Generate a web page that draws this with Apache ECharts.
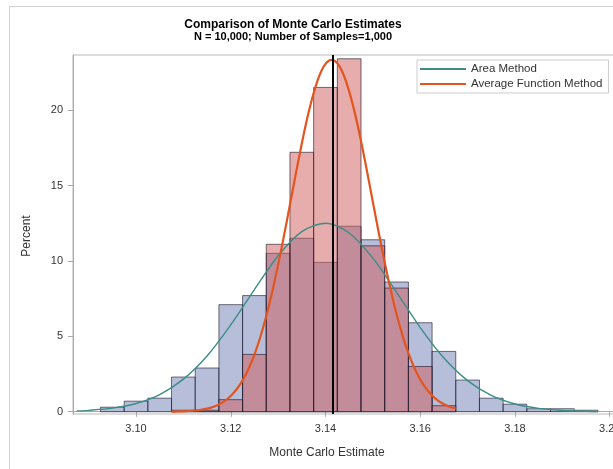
<!DOCTYPE html>
<html>
<head>
<meta charset="utf-8">
<script src="https://cdn.jsdelivr.net/npm/echarts@6/dist/echarts.min.js"></script>
<style>
  html, body { margin: 0; padding: 0; background: #fff; }
  #chart { width: 613px; height: 469px; }
</style>
</head>
<body>
<div id="chart"></div>
<script>
// histogram bins (percent of 1,000 samples), bin width 0.005
const binWidth = 0.005
const areaBinCenters = [3.095, 3.100, 3.105, 3.110, 3.115, 3.120, 3.125, 3.130, 3.135, 3.140, 3.145,
  3.150, 3.155, 3.160, 3.165, 3.170, 3.175, 3.180, 3.185, 3.190, 3.195]
const areaPercent = [0.3, 0.7, 0.9, 2.3, 2.9, 7.1, 7.7, 10.5, 11.5, 9.9, 12.3,
  11.4, 8.6, 5.9, 4.0, 2.1, 0.9, 0.5, 0.2, 0.2, 0.1]
const avgBinCenters = [3.110, 3.115, 3.120, 3.125, 3.130, 3.135, 3.140, 3.145, 3.150, 3.155, 3.160, 3.165]
const avgPercent = [0.1, 0.1, 0.8, 3.8, 11.1, 17.2, 21.5, 23.4, 11.0, 8.2, 3.0, 0.4]

// fitted normal curves
const areaCurveX = [3.0875, 3.090, 3.095, 3.100, 3.105, 3.110, 3.115, 3.120, 3.125, 3.130, 3.135, 3.140,
  3.145, 3.150, 3.155, 3.160, 3.165, 3.170, 3.175, 3.180, 3.185, 3.190, 3.195, 3.1975]
const areaCurveY = [0.056, 0.093, 0.236, 0.545, 1.14, 2.16, 3.70, 5.76, 8.10, 10.34, 11.94, 12.50,
  11.85, 10.18, 7.92, 5.58, 3.56, 2.06, 1.08, 0.51, 0.22, 0.086, 0.030, 0.017]
const avgCurveX = [3.10750, 3.10875, 3.11000, 3.11125, 3.11250, 3.11375, 3.11500, 3.11625,
  3.11750, 3.11875, 3.12000, 3.12125, 3.12250, 3.12375, 3.12500, 3.12625, 3.12750, 3.12875,
  3.13000, 3.13125, 3.13250, 3.13375, 3.13500, 3.13625, 3.13750, 3.13875, 3.14000, 3.14125,
  3.14250, 3.14375, 3.14500, 3.14625, 3.14750, 3.14875, 3.15000, 3.15125, 3.15250, 3.15375,
  3.15500, 3.15625, 3.15750, 3.15875, 3.16000, 3.16125, 3.16250, 3.16375, 3.16500, 3.16625, 3.16750]
const avgCurveY = [0.009, 0.017, 0.029, 0.049, 0.080, 0.130, 0.206, 0.319,
  0.485, 0.720, 1.048, 1.492, 2.080, 2.838, 3.791, 4.956, 6.342, 7.944,
  9.741, 11.69, 13.74, 15.80, 17.78, 19.60, 21.13, 22.32, 23.06, 23.33,
  23.10, 22.39, 21.24, 19.73, 17.94, 15.96, 13.90, 11.85, 9.89, 8.08,
  6.46, 5.06, 3.88, 2.91, 2.13, 1.53, 1.08, 0.742, 0.50, 0.330, 0.213]

const xTicks = [3.10, 3.12, 3.14, 3.16, 3.18, 3.20]
const yTicks = [0, 5, 10, 15, 20]
const piValue = 3.14159

const chart = echarts.init(document.getElementById('chart'))

function histItem(fill) {
  return function (params, api) {
    const c = api.value(0)
    const v = api.value(1)
    const p0 = api.coord([c - binWidth / 2, v])
    const p1 = api.coord([c + binWidth / 2, 0])
    return {
      type: 'rect',
      shape: { x: p0[0], y: p0[1], width: p1[0] - p0[0], height: p1[1] - p0[1] },
      style: { fill, stroke: 'rgba(20,20,40,0.6)', lineWidth: 1 },
    }
  }
}

const font = '"Liberation Sans", Arial, sans-serif'

chart.setOption({
  animation: false,
  textStyle: { fontFamily: font },
  grid: {
    left: 73, right: -1, top: 55, bottom: 55,
    outerBoundsMode: 'none',
    show: true, borderColor: '#b9b9b9', borderWidth: 1,
  },
  xAxis: {
    type: 'value',
    min: 3.0867,
    max: 3.2009,
    axisLine: { lineStyle: { color: '#aaaaaa' } },
    axisTick: { customValues: xTicks, length: 5, lineStyle: { color: '#aaaaaa' } },
    axisLabel: {
      customValues: xTicks,
      formatter: (v) => v.toFixed(2),
      color: '#333', fontSize: 11, margin: 9,
    },
    splitLine: { show: false },
  },
  yAxis: {
    type: 'value',
    min: -0.15,
    max: 23.65,
    axisLine: { show: true, lineStyle: { color: '#aaaaaa' } },
    axisTick: { show: true, customValues: yTicks, length: 5, lineStyle: { color: '#aaaaaa' } },
    axisLabel: { customValues: yTicks, color: '#333', fontSize: 11, margin: 10 },
    splitLine: { show: false },
  },
  legend: {
    data: ['Area Method', 'Average Function Method'],
    orient: 'vertical',
    left: 417,
    top: 60,
    padding: [3, 6, 3, 3],
    icon: 'rect',
    itemWidth: 46,
    itemHeight: 2,
    itemGap: 3,
    borderColor: '#cccccc',
    borderWidth: 1,
    backgroundColor: '#fff',
    textStyle: { fontSize: 11.5, color: '#333', lineHeight: 12 },
  },
  graphic: [
    { type: 'line', shape: { x1: 9.5, y1: 6.5, x2: 613, y2: 6.5 }, style: { stroke: '#d0d0d0', lineWidth: 1 } },
    { type: 'line', shape: { x1: 9.5, y1: 6.5, x2: 9.5, y2: 469 }, style: { stroke: '#d0d0d0', lineWidth: 1 } },
    {
      type: 'text', x: 293, y: 25,
      style: { text: 'Comparison of Monte Carlo Estimates', font: 'bold 12px ' + font, fill: '#000', align: 'center', verticalAlign: 'middle' },
    },
    {
      type: 'text', x: 293, y: 36.5,
      style: { text: 'N = 10,000; Number of Samples=1,000', font: 'bold 11px ' + font, fill: '#000', align: 'center', verticalAlign: 'middle' },
    },
    {
      type: 'text', x: 327, y: 453,
      style: { text: 'Monte Carlo Estimate', font: '12px ' + font, fill: '#333', align: 'center', verticalAlign: 'middle' },
    },
    {
      type: 'text', x: 27, y: 236, rotation: Math.PI / 2,
      style: { text: 'Percent', font: '12px ' + font, fill: '#333', align: 'center', verticalAlign: 'middle' },
    },
  ],
  series: [
    {
      name: 'Area Histogram',
      type: 'custom',
      renderItem: histItem('rgba(111,126,179,0.5)'),
      data: areaBinCenters.map((c, i) => [c, areaPercent[i]]),
      encode: { x: 0, y: 1 },
      z: 2,
    },
    {
      name: 'Average Function Histogram',
      type: 'custom',
      renderItem: histItem('rgba(208,91,91,0.5)'),
      data: avgBinCenters.map((c, i) => [c, avgPercent[i]]),
      encode: { x: 0, y: 1 },
      z: 3,
    },
    {
      name: 'Area Method',
      type: 'line',
      data: areaCurveX.map((x, i) => [x, areaCurveY[i]]),
      smooth: 0.3,
      symbol: 'none',
      lineStyle: { color: '#3a8e86', width: 1.4 },
      itemStyle: { color: '#3a8e86' },
      z: 4,
    },
    {
      name: 'Average Function Method',
      type: 'line',
      data: avgCurveX.map((x, i) => [x, avgCurveY[i]]),
      smooth: 0.3,
      symbol: 'none',
      lineStyle: { color: '#e3551e', width: 2.2 },
      itemStyle: { color: '#e3551e' },
      z: 4,
      markLine: {
        silent: true,
        symbol: 'none',
        precision: 5,
        label: { show: false },
        lineStyle: { color: '#000', width: 2, type: 'solid' },
        data: [{ xAxis: piValue }],
        z: 5,
      },
    },
  ],
})
</script>
</body>
</html>
